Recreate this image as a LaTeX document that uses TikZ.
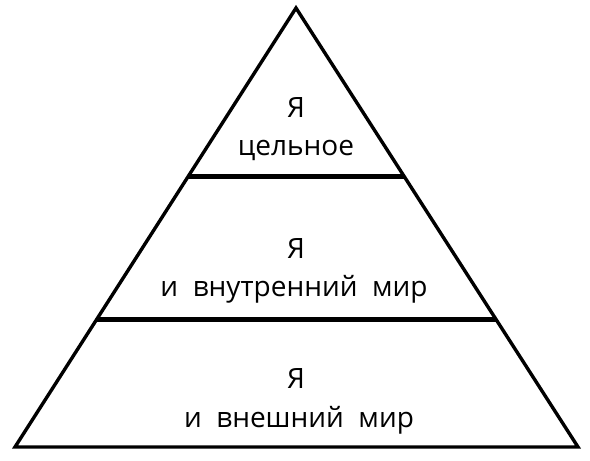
\documentclass[tikz,border=0pt]{standalone}
\usepackage{fontspec}
\usetikzlibrary{calc}
\newfontfamily\pyrfont[WordSpace=2]{Open Sans}
\begin{document}
\begin{tikzpicture}[x=1pt, y=-1pt]
\useasboundingbox (0, 0) rectangle (590, 461);
\coordinate (apex) at (296, 8);
\coordinate (bl) at (15, 447);
\coordinate (br) at (578, 447);
\draw [line width=3.4pt, line join=miter] (apex) -- (bl) -- (br) -- cycle;
\draw [line width=5pt] ($(apex)!0.3827!(bl)$) coordinate (l1) -- ($(apex)!0.3827!(br)$) coordinate (r1);
\draw [line width=5pt] ($(apex)!0.7107!(bl)$) coordinate (l2) -- ($(apex)!0.7107!(br)$) coordinate (r2);
\node [anchor=base, font=\pyrfont\fontsize{28}{30}\selectfont] (topa) at (296, 117) {Я};
\node [anchor=base, font=\pyrfont\fontsize{28}{30}\selectfont] (topb) at (296, 155) {цельное};
\node [anchor=base, font=\pyrfont\fontsize{28}{30}\selectfont] (mida) at (296, 258) {Я};
\node [anchor=base, font=\pyrfont\fontsize{28}{30}\selectfont] (midb) at (294, 296) {и внутренний мир};
\node [anchor=base, font=\pyrfont\fontsize{28}{30}\selectfont] (bota) at (296, 388) {Я};
\node [anchor=base, font=\pyrfont\fontsize{28}{30}\selectfont] (botb) at (299, 427) {и внешний мир};
\end{tikzpicture}
\end{document}
